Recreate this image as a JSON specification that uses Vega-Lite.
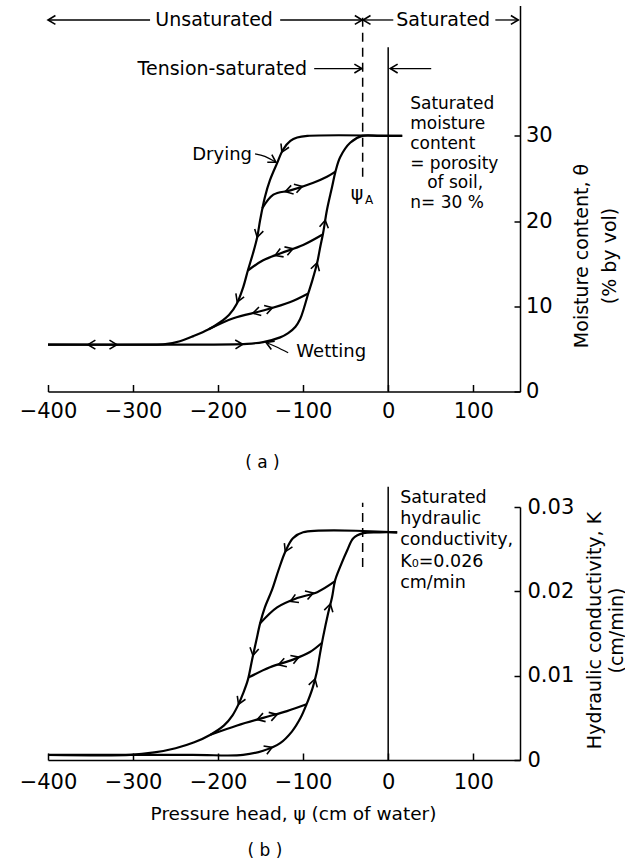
{
  "$schema": "https://vega.github.io/schema/vega-lite/v6.json",
  "padding": {"left": 19, "top": 5.5, "right": 0, "bottom": 0},
  "background": "white",
  "bounds": "flush",
  "spacing": 115.5,
  "config": {
    "view": {"stroke": null},
    "font": "DejaVu Sans",
    "text": {"font": "DejaVu Sans", "color": "black"},
    "axis": {
      "grid": false,
      "domainColor": "black",
      "domainWidth": 1.5,
      "tickColor": "black",
      "tickWidth": 1.5,
      "tickSize": -7,
      "labelFont": "DejaVu Sans",
      "labelFontSize": 21,
      "labelColor": "black",
      "titleFont": "DejaVu Sans",
      "titleFontWeight": "normal",
      "titleColor": "black",
      "titleFontSize": 19
    }
  },
  "vconcat": [
    {
      "width": 472,
      "height": 386,
      "encoding": {
        "x": {
          "field": "psi", "type": "quantitative",
          "scale": {"domain": [-400, 155], "nice": false, "zero": false},
          "axis": {"values": [-400, -300, -200, -100, 0, 100], "labelPadding": 15.5, "labelFlush": false,
                   "title": "( a )", "titleFontSize": 17, "titleX": 214, "titleY": 71, "titleBaseline": "middle", "titleAnchor": null}
        },
        "y": {
          "field": "v", "type": "quantitative",
          "scale": {"domain": [0, 45.3], "nice": false, "zero": false},
          "axis": {"orient": "right", "values": [0, 10, 20, 30], "tickSize": -6, "labelPadding": 11.5, "labelFlush": false,
                   "title": ["Moisture content, θ", "(% by vol)"], "titleAngle": 270, "titleAlign": "center",
                   "titleBaseline": "middle", "titleLineHeight": 28, "titleX": 61, "titleY": 250}
        }
      },
      "layer": [
        {
          "data": {"values": [{"psi": 0, "v": 0, "v2": 40.4}]},
          "mark": {"type": "rule", "color": "black", "strokeWidth": 1.5},
          "encoding": {"y2": {"field": "v2"}}
        },
        {
          "data": {"values": [{"psi": -30, "v": 25.2, "v2": 44.5}]},
          "mark": {"type": "rule", "color": "black", "strokeWidth": 1.5, "strokeDash": [9, 6]},
          "encoding": {"y2": {"field": "v2"}}
        },
        {
          "data": {"values": [
            {"c": "D", "psi": 16.5, "v": 30}, {"c": "D", "psi": -95, "v": 30}, {"c": "D", "psi": -107, "v": 29.8},
            {"c": "D", "psi": -115, "v": 29.4}, {"c": "D", "psi": -123.5, "v": 28.4}, {"c": "D", "psi": -130.6, "v": 26.8},
            {"c": "D", "psi": -139, "v": 24.8}, {"c": "D", "psi": -145, "v": 22.8}, {"c": "D", "psi": -150.6, "v": 20.1},
            {"c": "D", "psi": -154, "v": 18.1}, {"c": "D", "psi": -159, "v": 16.2}, {"c": "D", "psi": -165, "v": 14.2},
            {"c": "D", "psi": -170.6, "v": 12.2}, {"c": "D", "psi": -178, "v": 10.3}, {"c": "D", "psi": -187, "v": 9.0},
            {"c": "D", "psi": -198, "v": 8.1}, {"c": "D", "psi": -211, "v": 7.3}, {"c": "D", "psi": -229, "v": 6.5},
            {"c": "D", "psi": -245, "v": 5.9}, {"c": "D", "psi": -262, "v": 5.55}, {"c": "D", "psi": -290, "v": 5.5},
            {"c": "D", "psi": -400, "v": 5.5},
            {"c": "W", "psi": -400, "v": 5.5}, {"c": "W", "psi": -250, "v": 5.5}, {"c": "W", "psi": -166, "v": 5.6},
            {"c": "W", "psi": -147, "v": 5.8}, {"c": "W", "psi": -127, "v": 6.35}, {"c": "W", "psi": -117.6, "v": 6.85},
            {"c": "W", "psi": -109, "v": 7.6}, {"c": "W", "psi": -103.5, "v": 8.5},
            {"c": "W", "psi": -99, "v": 9.8}, {"c": "W", "psi": -94, "v": 11.5}, {"c": "W", "psi": -89, "v": 13.1},
            {"c": "W", "psi": -83.5, "v": 15.1}, {"c": "W", "psi": -80, "v": 16.9}, {"c": "W", "psi": -76.5, "v": 18.6},
            {"c": "W", "psi": -72, "v": 21.3}, {"c": "W", "psi": -66, "v": 24.0}, {"c": "W", "psi": -62, "v": 25.8},
            {"c": "W", "psi": -56.5, "v": 27.5}, {"c": "W", "psi": -44.7, "v": 29.2}, {"c": "W", "psi": -30.6, "v": 30},
            {"c": "W", "psi": -10, "v": 30}, {"c": "W", "psi": 16.5, "v": 30},
            {"c": "S1", "psi": -148, "v": 21.5}, {"c": "S1", "psi": -135, "v": 23.1}, {"c": "S1", "psi": -115, "v": 23.6},
            {"c": "S1", "psi": -88, "v": 24.5}, {"c": "S1", "psi": -72, "v": 25.2}, {"c": "S1", "psi": -62, "v": 25.8},
            {"c": "S2", "psi": -165, "v": 14.2}, {"c": "S2", "psi": -147, "v": 15.4}, {"c": "S2", "psi": -127, "v": 16.2},
            {"c": "S2", "psi": -100, "v": 17.2}, {"c": "S2", "psi": -77.6, "v": 18.4},
            {"c": "S3", "psi": -211, "v": 7.3}, {"c": "S3", "psi": -182, "v": 8.6}, {"c": "S3", "psi": -147, "v": 9.5},
            {"c": "S3", "psi": -115, "v": 10.5}, {"c": "S3", "psi": -94, "v": 11.5}
          ]},
          "mark": {"type": "line", "color": "black", "strokeWidth": 2.2, "interpolate": "catmull-rom"},
          "encoding": {"detail": {"field": "c"}, "order": {"value": null}}
        },
        {
          "data": {"values": [
            {"c": "ld", "psi": -156.5, "v": 27.9}, {"c": "ld", "psi": -145, "v": 27.6}, {"c": "ld", "psi": -132, "v": 26.9},
            {"c": "lw", "psi": -117.6, "v": 4.55}, {"c": "lw", "psi": -131.8, "v": 5.25}, {"c": "lw", "psi": -143.5, "v": 5.75},
            {"c": "u1", "psi": -400, "v": 43.6}, {"c": "u1", "psi": -280, "v": 43.6},
            {"c": "u2", "psi": -127, "v": 43.6}, {"c": "u2", "psi": -30.5, "v": 43.6},
            {"c": "s1", "psi": -29.5, "v": 43.6}, {"c": "s1", "psi": 6, "v": 43.6},
            {"c": "s2", "psi": 126, "v": 43.6}, {"c": "s2", "psi": 153, "v": 43.6},
            {"c": "t1", "psi": -87, "v": 37.9}, {"c": "t1", "psi": -31, "v": 37.9},
            {"c": "t2", "psi": 2.4, "v": 37.9}, {"c": "t2", "psi": 50.6, "v": 37.9}
          ]},
          "mark": {"type": "line", "color": "black", "strokeWidth": 1.3, "interpolate": "catmull-rom"},
          "encoding": {"detail": {"field": "c"}, "order": {"value": null}}
        },
        {
          "data": {"values": [
            {"psi": -125, "v": 28.1, "ang": 115}, {"psi": -154, "v": 18.1, "ang": 104}, {"psi": -177.5, "v": 10.5, "ang": 112},
            {"psi": -121, "v": 23.45, "ang": 164}, {"psi": -101, "v": 24.07, "ang": 343},
            {"psi": -133, "v": 15.96, "ang": 158}, {"psi": -112, "v": 16.76, "ang": 341},
            {"psi": -159, "v": 9.19, "ang": 165}, {"psi": -136, "v": 9.84, "ang": 343},
            {"psi": -353, "v": 5.5, "ang": 180}, {"psi": -319, "v": 5.5, "ang": 0}, {"psi": -171, "v": 5.55, "ang": 358},
            {"psi": -74, "v": 20.1, "ang": 280}, {"psi": -83.5, "v": 15.1, "ang": 286},
            {"psi": -132, "v": 26.9, "ang": 31}, {"psi": -143.5, "v": 5.75, "ang": 202},
            {"psi": -400, "v": 43.6, "ang": 180}, {"psi": -30.5, "v": 43.6, "ang": 0},
            {"psi": -29.5, "v": 43.6, "ang": 180}, {"psi": 153, "v": 43.6, "ang": 0},
            {"psi": -31, "v": 37.9, "ang": 0}, {"psi": 2.4, "v": 37.9, "ang": 180}
          ]},
          "mark": {"type": "point", "shape": "M -1 -0.6 L 0 0 L -1 0.6", "filled": false, "stroke": "black", "strokeWidth": 1.6, "size": 220, "opacity": 1},
          "encoding": {"angle": {"field": "ang", "type": "quantitative", "scale": {"domain": [0, 360], "range": [0, 360]}}}
        },
        {
          "data": {"values": [
            {"psi": -204.7, "v": 43.6, "t": "Unsaturated"},
            {"psi": 64.7, "v": 43.6, "t": "Saturated"},
            {"psi": -195, "v": 37.9, "t": "Tension-saturated"}
          ]},
          "mark": {"type": "text", "fontSize": 19, "align": "center", "baseline": "middle"},
          "encoding": {"text": {"field": "t"}}
        },
        {
          "data": {"values": [
            {"psi": -195.3, "v": 27.8, "t": "Drying"},
            {"psi": -67, "v": 4.65, "t": "Wetting"}
          ]},
          "mark": {"type": "text", "fontSize": 18, "align": "center", "baseline": "middle"},
          "encoding": {"text": {"field": "t"}}
        },
        {
          "data": {"values": [
            {"psi": 25.9, "v": 33.7, "t": "Saturated\nmoisture\ncontent\n= porosity"},
            {"psi": 45.9, "v": 24.45, "t": "of soil,"},
            {"psi": 25.9, "v": 22.12, "t": "n= 30 %"}
          ]},
          "mark": {"type": "text", "fontSize": 17, "align": "left", "baseline": "middle", "lineBreak": "\n", "lineHeight": 19.8},
          "encoding": {"text": {"field": "t"}}
        },
        {
          "data": {"values": [{"psi": -36.5, "v": 23.2, "t": "ψ"}]},
          "mark": {"type": "text", "fontSize": 19, "align": "center", "baseline": "middle"},
          "encoding": {"text": {"field": "t"}}
        },
        {
          "data": {"values": [{"psi": -22.4, "v": 22.5, "t": "A"}]},
          "mark": {"type": "text", "fontSize": 12, "align": "center", "baseline": "middle"},
          "encoding": {"text": {"field": "t"}}
        }
      ]
    },
    {
      "width": 472,
      "height": 253,
      "title": {"text": "( b )", "orient": "bottom", "anchor": "middle", "dx": -19, "offset": 20, "fontSize": 17, "fontWeight": "normal", "font": "DejaVu Sans", "color": "black"},
      "encoding": {
        "x": {
          "field": "psi", "type": "quantitative",
          "scale": {"domain": [-400, 155], "nice": false, "zero": false},
          "axis": {"values": [-400, -300, -200, -100, 0, 100], "labelPadding": 18.5, "labelFlush": false,
                   "title": "Pressure head, ψ (cm of water)", "titleFontSize": 18.5, "titleX": 245, "titleY": 53, "titleBaseline": "middle", "titleAnchor": null}
        },
        "y": {
          "field": "v", "type": "quantitative",
          "scale": {"domain": [0, 0.03], "nice": false, "zero": false},
          "axis": {"orient": "right", "values": [0, 0.01, 0.02, 0.03], "tickSize": -6, "labelPadding": 13, "labelFlush": false,
                   "labelExpr": "datum.value == 0 ? '0' : format(datum.value, '.2f')",
                   "title": ["Hydraulic conductivity, K", "(cm/min)"], "titleAngle": 270, "titleAlign": "center",
                   "titleBaseline": "middle", "titleLineHeight": 22, "titleX": 74, "titleY": 123}
        }
      },
      "layer": [
        {
          "data": {"values": [{"psi": 0, "v": 0, "v2": 0.0324}]},
          "mark": {"type": "rule", "color": "black", "strokeWidth": 1.5},
          "encoding": {"y2": {"field": "v2"}}
        },
        {
          "data": {"values": [{"psi": -30, "v": 0.0229, "v2": 0.0305}]},
          "mark": {"type": "rule", "color": "black", "strokeWidth": 1.5, "strokeDash": [9, 6]},
          "encoding": {"y2": {"field": "v2"}}
        },
        {
          "data": {"values": [
            {"c": "D", "psi": 10.6, "v": 0.027}, {"c": "D", "psi": -100, "v": 0.027}, {"c": "D", "psi": -112, "v": 0.0263},
            {"c": "D", "psi": -121, "v": 0.0247}, {"c": "D", "psi": -129, "v": 0.0225}, {"c": "D", "psi": -136.5, "v": 0.0202},
            {"c": "D", "psi": -145, "v": 0.0181}, {"c": "D", "psi": -150.6, "v": 0.0162}, {"c": "D", "psi": -155, "v": 0.0142},
            {"c": "D", "psi": -160, "v": 0.0119}, {"c": "D", "psi": -165, "v": 0.0095}, {"c": "D", "psi": -170.6, "v": 0.0079},
            {"c": "D", "psi": -176, "v": 0.0066}, {"c": "D", "psi": -183, "v": 0.0053}, {"c": "D", "psi": -193, "v": 0.0041},
            {"c": "D", "psi": -209, "v": 0.0030}, {"c": "D", "psi": -228, "v": 0.0021}, {"c": "D", "psi": -250, "v": 0.0014},
            {"c": "D", "psi": -275, "v": 0.0009}, {"c": "D", "psi": -303, "v": 0.0006},
            {"c": "D", "psi": -400, "v": 0.0006},
            {"c": "W", "psi": -400, "v": 0.0006}, {"c": "W", "psi": -230, "v": 0.0006}, {"c": "W", "psi": -170.6, "v": 0.0006},
            {"c": "W", "psi": -147, "v": 0.0011}, {"c": "W", "psi": -127, "v": 0.0020}, {"c": "W", "psi": -113, "v": 0.0034},
            {"c": "W", "psi": -103, "v": 0.0050}, {"c": "W", "psi": -96, "v": 0.0066}, {"c": "W", "psi": -89, "v": 0.0085},
            {"c": "W", "psi": -84, "v": 0.0104}, {"c": "W", "psi": -80, "v": 0.0127}, {"c": "W", "psi": -76.5, "v": 0.0146},
            {"c": "W", "psi": -70.6, "v": 0.0174}, {"c": "W", "psi": -66, "v": 0.0193}, {"c": "W", "psi": -62.4, "v": 0.0213},
            {"c": "W", "psi": -56.5, "v": 0.0229}, {"c": "W", "psi": -48, "v": 0.0249}, {"c": "W", "psi": -41, "v": 0.0263},
            {"c": "W", "psi": -29.4, "v": 0.0269}, {"c": "W", "psi": -10, "v": 0.027}, {"c": "W", "psi": 10.6, "v": 0.027},
            {"c": "S1", "psi": -150.6, "v": 0.0162}, {"c": "S1", "psi": -130.6, "v": 0.0181}, {"c": "S1", "psi": -107, "v": 0.0192},
            {"c": "S1", "psi": -83.5, "v": 0.0199}, {"c": "S1", "psi": -62.4, "v": 0.0212},
            {"c": "S2", "psi": -164, "v": 0.0098}, {"c": "S2", "psi": -139, "v": 0.0110}, {"c": "S2", "psi": -112, "v": 0.0119},
            {"c": "S2", "psi": -92, "v": 0.0128}, {"c": "S2", "psi": -77.8, "v": 0.0139},
            {"c": "S3", "psi": -209, "v": 0.0030}, {"c": "S3", "psi": -177.6, "v": 0.0041}, {"c": "S3", "psi": -147, "v": 0.0050},
            {"c": "S3", "psi": -119, "v": 0.0058}, {"c": "S3", "psi": -96, "v": 0.0066}
          ]},
          "mark": {"type": "line", "color": "black", "strokeWidth": 2.2, "interpolate": "catmull-rom"},
          "encoding": {"detail": {"field": "c"}, "order": {"value": null}}
        },
        {
          "data": {"values": [
            {"psi": -121, "v": 0.0247, "ang": 115},
            {"psi": -115, "v": 0.0188, "ang": 156}, {"psi": -88, "v": 0.0198, "ang": 343},
            {"psi": -68, "v": 0.0185, "ang": 284},
            {"psi": -159, "v": 0.0124, "ang": 101},
            {"psi": -129, "v": 0.0113, "ang": 163}, {"psi": -105, "v": 0.0122, "ang": 340},
            {"psi": -86, "v": 0.0096, "ang": 286},
            {"psi": -176, "v": 0.0066, "ang": 113},
            {"psi": -154, "v": 0.0048, "ang": 163}, {"psi": -130.6, "v": 0.0054, "ang": 343},
            {"psi": -136.5, "v": 0.0015, "ang": 338}
          ]},
          "mark": {"type": "point", "shape": "M -1 -0.6 L 0 0 L -1 0.6", "filled": false, "stroke": "black", "strokeWidth": 1.6, "size": 220, "opacity": 1},
          "encoding": {"angle": {"field": "ang", "type": "quantitative", "scale": {"domain": [0, 360], "range": [0, 360]}}}
        },
        {
          "data": {"values": [
            {"psi": 14.1, "v": 0.03107, "t": "Saturated\nhydraulic\nconductivity,\nK₀=0.026\ncm/min"}
          ]},
          "mark": {"type": "text", "fontSize": 17.5, "align": "left", "baseline": "middle", "lineBreak": "\n", "lineHeight": 21.25},
          "encoding": {"text": {"field": "t"}}
        }
      ]
    }
  ]
}
